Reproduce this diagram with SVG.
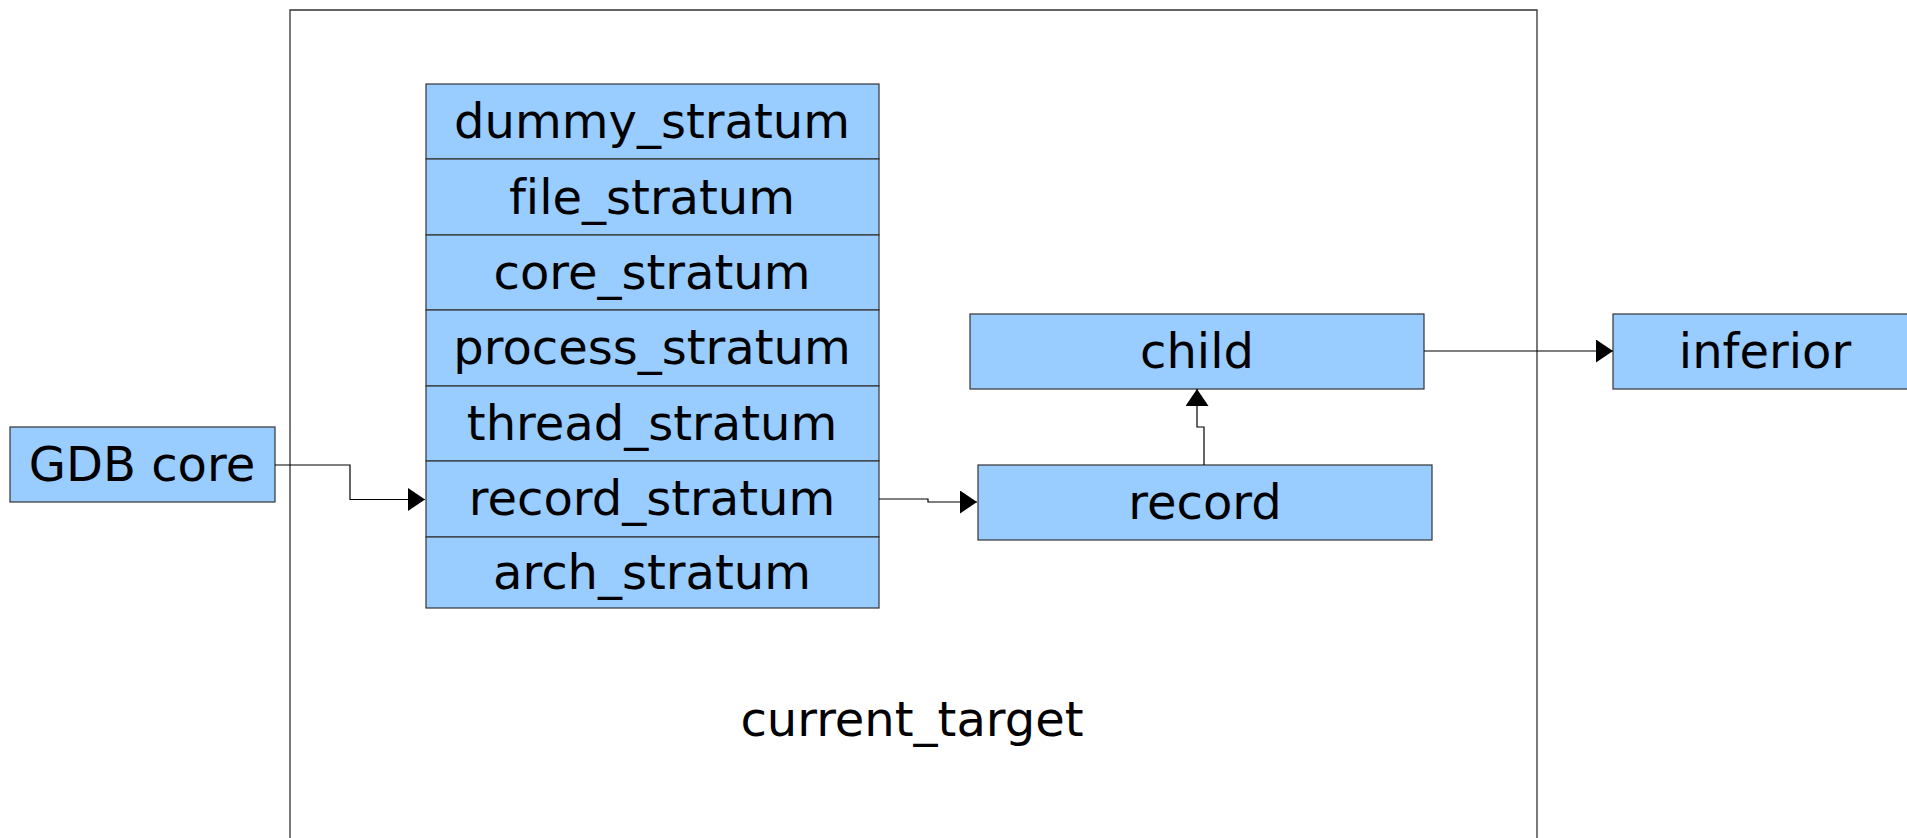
<svg xmlns="http://www.w3.org/2000/svg" width="1907" height="838" viewBox="0 0 1907 838">
<style>
.box{fill:#99ccff;stroke:#333;stroke-width:1.2}
.t{font-family:"DejaVu Sans",sans-serif;font-size:48px;fill:#000;text-anchor:middle;font-variant-ligatures:none}
.c{fill:none;stroke:#000;stroke-width:1.2}
</style>
<defs>
<marker id="arr" markerUnits="userSpaceOnUse" markerWidth="20" markerHeight="24" refX="17" refY="11.5" orient="auto">
<path d="M0,0 L17,11.5 L0,23 Z" fill="#000"/>
</marker>
</defs>
<rect width="1907" height="838" fill="#fff"/>
<g id="current_target">
<path d="M290,838 V10 H1537 V838" fill="none" stroke="#333" stroke-width="1.3"/>
<text class="t" x="912" y="736">current_target</text>
</g>
<g id="gdb_core">
<rect class="box" x="10" y="427" width="265" height="75"/>
<text class="t" x="142" y="481">GDB core</text>
</g>
<g id="strata">
<rect class="box" x="426" y="84" width="453" height="75"/>
<text class="t" x="652" y="138">dummy_stratum</text>
<rect class="box" x="426" y="159" width="453" height="76"/>
<text class="t" x="652" y="214">file_stratum</text>
<rect class="box" x="426" y="235" width="453" height="75"/>
<text class="t" x="652" y="289">core_stratum</text>
<rect class="box" x="426" y="310" width="453" height="76"/>
<text class="t" x="652" y="364">process_stratum</text>
<rect class="box" x="426" y="386" width="453" height="75"/>
<text class="t" x="652" y="440">thread_stratum</text>
<rect class="box" x="426" y="461" width="453" height="76"/>
<text class="t" x="652" y="515">record_stratum</text>
<rect class="box" x="426" y="537" width="453" height="71"/>
<text class="t" x="652" y="589">arch_stratum</text>
</g>
<g id="child">
<rect class="box" x="970" y="314" width="454" height="75"/>
<text class="t" x="1197" y="368">child</text>
</g>
<g id="record">
<rect class="box" x="978" y="465" width="454" height="75"/>
<text class="t" x="1205" y="519">record</text>
</g>
<g id="inferior">
<rect class="box" x="1613" y="314" width="300" height="75"/>
<text class="t" x="1765" y="368">inferior</text>
</g>
<g id="connectors">
<path class="c" d="M275,465 H350 V499.5 H425" marker-end="url(#arr)"/>
<path class="c" d="M879,499 H928 V502 H977" marker-end="url(#arr)"/>
<path class="c" d="M1204,465 V427 H1197 V389" marker-end="url(#arr)"/>
<path class="c" d="M1424,351 H1613" marker-end="url(#arr)"/>
</g>
</svg>
